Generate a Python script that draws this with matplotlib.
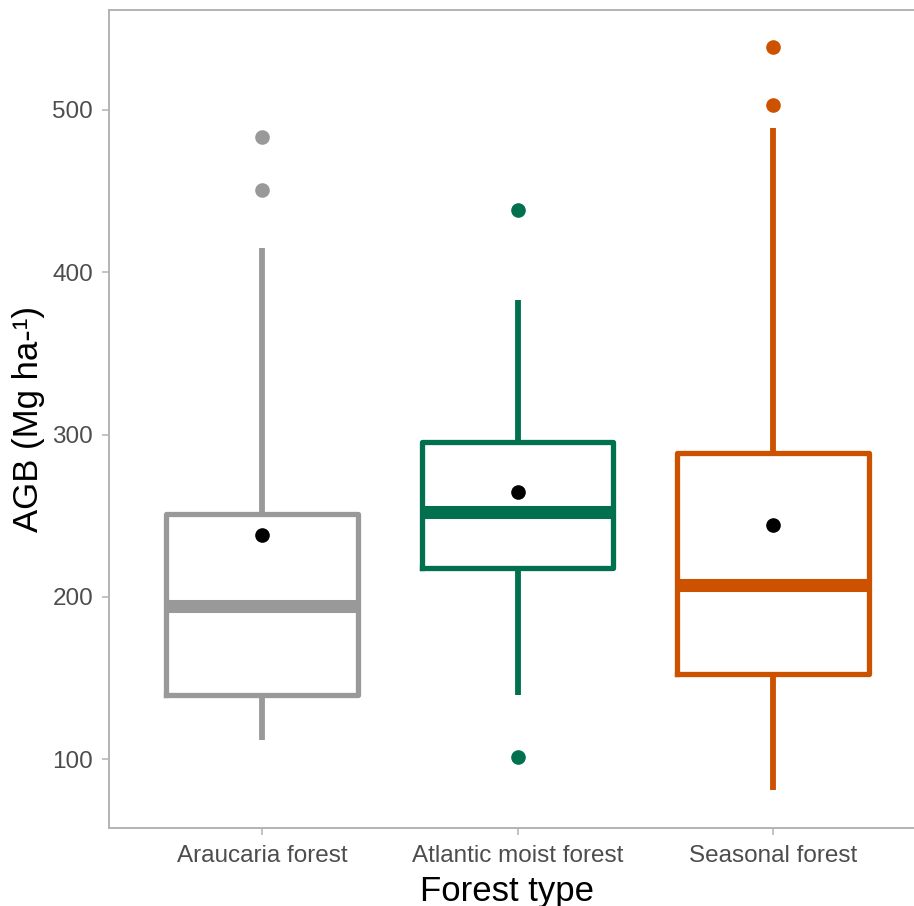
import matplotlib
matplotlib.use("Agg")
import matplotlib.pyplot as plt

categories = ["Araucaria forest", "Atlantic moist forest", "Seasonal forest"]
q1 = [139.6, 217.9, 152.6]
medians = [194.3, 252.2, 207.6]
q3 = [251.3, 295.2, 288.9]
whisker_low = [111.9, 139.6, 81.0]
whisker_high = [414.8, 383.0, 488.8]
means = [238.2, 264.7, 244.4]
outliers = [[450.8, 483.6], [101.6, 438.2], [503.3, 539.0]]
colors = ["#999999", "#00704F", "#CC5200"]
yticks = [100, 200, 300, 400, 500]

plt.rcParams['font.family'] = ['Liberation Sans', 'DejaVu Sans']

W, H = 914, 906
fig = plt.figure(figsize=(W / 100, H / 100), dpi=100)
left_px, right_px, top_px, bottom_px = 108.5, 926.6, 10, 828
ax = fig.add_axes([left_px / W, (H - bottom_px) / H,
                   (right_px - left_px) / W, (bottom_px - top_px) / H])

positions = [1, 2, 3]
for i, pos in enumerate(positions):
    stats = [dict(med=medians[i], q1=q1[i], q3=q3[i], whislo=whisker_low[i],
                  whishi=whisker_high[i], fliers=outliers[i], mean=means[i],
                  label=categories[i])]
    c = colors[i]
    ax.bxp(stats, positions=[pos], widths=0.75, showcaps=False, showmeans=False,
           patch_artist=False,
           boxprops=dict(color=c, linewidth=3.8, solid_joinstyle='round'),
           whiskerprops=dict(color=c, linewidth=4.2, solid_capstyle='butt'),
           medianprops=dict(color=c, linewidth=9.4, solid_capstyle='butt'),
           flierprops=dict(marker='o', markerfacecolor=c, markeredgecolor=c,
                           markersize=9.5, linestyle='none'))
    ax.plot([pos], [means[i]], marker='o', color='black', markersize=9.5,
            linestyle='none', zorder=5)

ax.set_xlim(0.4, 3.6)
ax.set_ylim(57.7, 561.6)
ax.set_xticks(positions)
ax.set_xticklabels(categories)
ax.set_yticks(yticks)
ax.set_yticklabels([str(v) for v in yticks])

for s in ['left', 'top', 'bottom', 'right']:
    ax.spines[s].set_color('#B3B3B3')
    ax.spines[s].set_linewidth(1.4)

ax.tick_params(axis='both', colors='#B3B3B3', labelcolor='#4D4D4D',
               labelsize=17.5, length=5, width=1.1)
ax.tick_params(axis='x', pad=7)
ax.tick_params(axis='y', pad=6)

ax.set_xlabel("Forest type", fontsize=25, color='black')
ax.set_ylabel("AGB (Mg ha-¹)", fontsize=25, color='black')
ax.xaxis.set_label_coords((507.5 - left_px) / (right_px - left_px), -0.057)
ax.yaxis.set_label_coords((45 - left_px) / (right_px - left_px), 0.5)

fig.savefig("out.png", dpi=100)
